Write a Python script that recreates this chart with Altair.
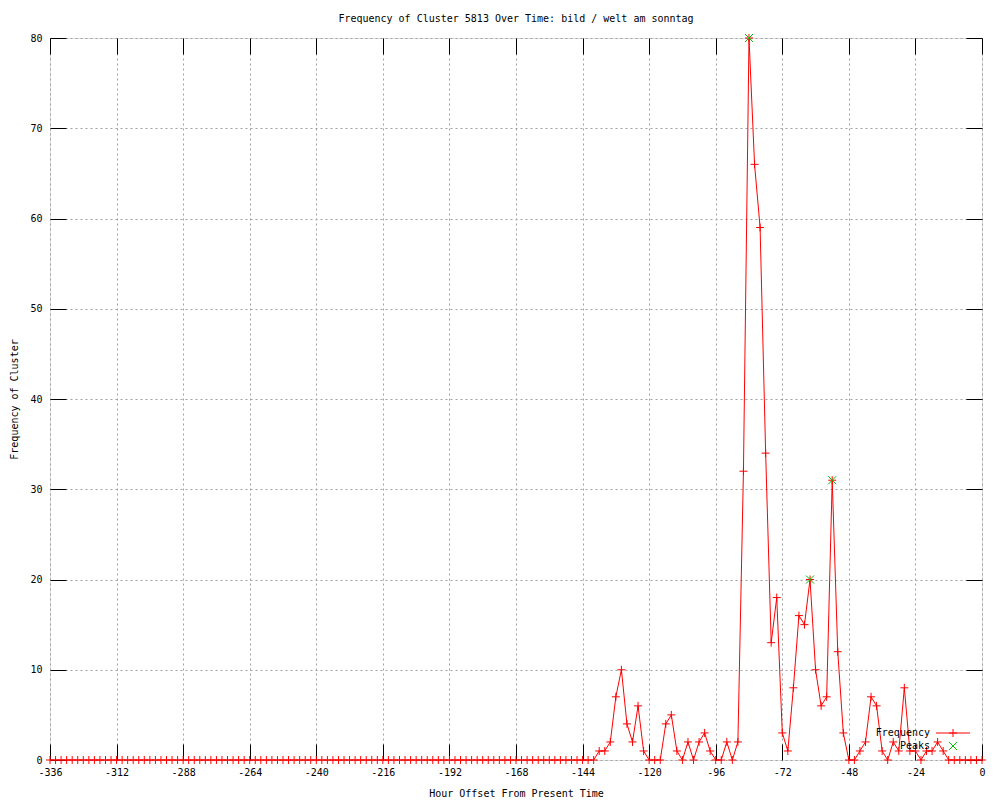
import altair as alt
import pandas as pd

# ---- data ----
hours = list(range(-336, 1, 2))
freq = [0] * 99 + [
    1, 1, 2, 7, 10, 4, 2, 6, 1, 0,      # -138 .. -120
    0, 0, 4, 5, 1, 0, 2, 0, 2, 3,       # -118 .. -100
    1, 0, 0, 2, 0, 2, 32, 80, 66, 59,   # -98 .. -80
    34, 13, 18, 3, 1, 8, 16, 15, 20, 10,  # -78 .. -60
    6, 7, 31, 12, 3, 0, 0, 1, 2, 7,     # -58 .. -40
    6, 1, 0, 2, 1, 8, 1, 1, 0, 1,       # -38 .. -20
    1, 2, 1, 0, 0, 0, 0, 0, 0, 0,       # -18 .. 0
]
peak_hours = [-84, -62, -54]
peak_freq = [80, 20, 31]

x_ticks = [-336, -312, -288, -264, -240, -216, -192, -168, -144, -120, -96, -72, -48, -24, 0]
y_ticks = [0, 10, 20, 30, 40, 50, 60, 70, 80]
legend_labels = ["Frequency", "Peaks"]

title_text = "Frequency of Cluster 5813 Over Time: bild / welt am sonntag"
x_title = "Hour Offset From Present Time"
y_title = "Frequency of Cluster"

df = pd.DataFrame({"hour": hours, "freq": freq})
pk = pd.DataFrame({"hour": peak_hours, "freq": peak_freq})

W, H = 932, 722
FONT = "DejaVu Sans Mono"
RED = "#ff0000"
GREEN = "#00c000"
PLUS = "M-1,0L1,0M0,-1L0,1"
XSHAPE = "M-1,-1L1,1M1,-1L-1,1"


def xsc():
    return alt.Scale(domain=[-336, 0], nice=False, zero=False)


def ysc():
    return alt.Scale(domain=[0, 80], nice=False, zero=False)


tick_axis = dict(labels=False, grid=False, domain=False, ticks=True,
                 tickSize=16, tickColor="black", tickWidth=1, title=None)

line = alt.Chart(df).mark_line(color=RED, strokeWidth=1).encode(
    x=alt.X("hour:Q", scale=xsc(), axis=alt.Axis(
        orient="bottom", values=x_ticks, title=x_title, grid=True,
        gridDash=[2, 3], gridColor="#a0a0a0", gridWidth=1,
        ticks=False, tickSize=0, domain=False,
        labelExpr="'' + datum.value", labelFont=FONT, labelFontSize=10,
        labelColor="black", labelPadding=7, labelFlush=False, labelOverlap=False,
        titleFont=FONT, titleFontSize=10, titleFontWeight="normal",
        titleColor="black", titlePadding=11)),
    y=alt.Y("freq:Q", scale=ysc(), axis=alt.Axis(
        orient="left", values=y_ticks, title=y_title, grid=True,
        gridDash=[2, 3], gridColor="#a0a0a0", gridWidth=1,
        ticks=False, tickSize=0, domain=False,
        labelFont=FONT, labelFontSize=10, labelColor="black",
        labelPadding=8, labelFlush=False, labelOverlap=False,
        titleFont=FONT, titleFontSize=10, titleFontWeight="normal",
        titleColor="black", titlePadding=10)),
)

pts = alt.Chart(df).mark_point(shape=PLUS, size=64, color=RED, filled=False,
                                strokeWidth=1, opacity=1).encode(
    x=alt.X("hour:Q", scale=xsc(), axis=alt.Axis(orient="top", offset=-H,
                                                  values=x_ticks, **tick_axis)),
    y=alt.Y("freq:Q", scale=ysc(), axis=alt.Axis(orient="right", offset=-W,
                                                  values=y_ticks, **tick_axis)),
)

peaks = alt.Chart(pk).mark_point(shape=XSHAPE, size=64, color=GREEN, filled=False,
                                  strokeWidth=1, opacity=1).encode(
    x=alt.X("hour:Q", scale=xsc(), axis=alt.Axis(orient="bottom", offset=-H,
                                                  values=x_ticks, **tick_axis)),
    y=alt.Y("freq:Q", scale=ysc(), axis=alt.Axis(orient="left", offset=-W,
                                                  values=y_ticks, **tick_axis)),
)

one = pd.DataFrame({"k": [0]})
leg_t1 = alt.Chart(one).mark_text(align="right", baseline="middle", font=FONT,
                                  fontSize=10, color="black").encode(
    x=alt.value(880), y=alt.value(695), text=alt.value(legend_labels[0]))
leg_t2 = alt.Chart(one).mark_text(align="right", baseline="middle", font=FONT,
                                  fontSize=10, color="black").encode(
    x=alt.value(880), y=alt.value(708), text=alt.value(legend_labels[1]))
leg_line = alt.Chart(one).mark_rule(color=RED, strokeWidth=1).encode(
    x=alt.value(886), x2=alt.value(920), y=alt.value(695))
leg_plus = alt.Chart(one).mark_point(shape=PLUS, size=64, color=RED, filled=False,
                                     strokeWidth=1, opacity=1).encode(
    x=alt.value(903), y=alt.value(695))
leg_x = alt.Chart(one).mark_point(shape=XSHAPE, size=64, color=GREEN, filled=False,
                                  strokeWidth=1, opacity=1).encode(
    x=alt.value(903), y=alt.value(708))

chart = alt.layer(line, pts, peaks, leg_t1, leg_t2, leg_line, leg_plus, leg_x).resolve_scale(
    x="independent", y="independent"
).properties(
    width=W, height=H,
    title=alt.TitleParams(title_text, font=FONT, fontSize=10, fontWeight="normal",
                          color="black", anchor="middle", offset=8),
    autosize=alt.AutoSizeParams(type="none"),
    padding={"left": 42, "top": 30, "right": 10, "bottom": 38},
).configure_view(
    stroke="black", strokeWidth=1
).configure(background="white")

chart.save("out.html", embed_options={"renderer": "svg", "actions": False})
